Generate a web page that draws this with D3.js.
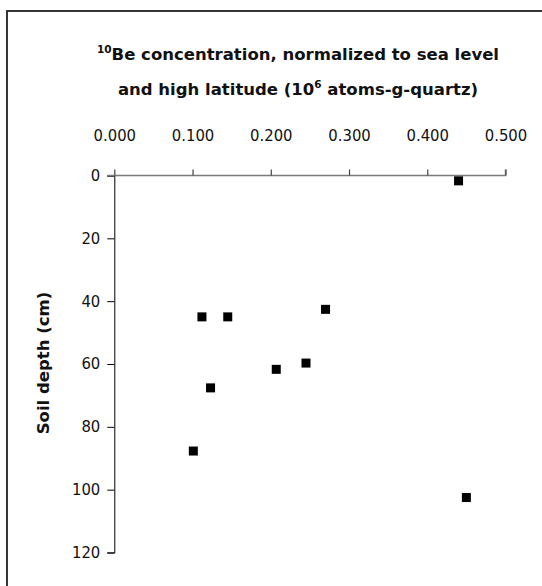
<!DOCTYPE html>
<html>
<head>
<meta charset="utf-8">
<script src="https://cdn.jsdelivr.net/npm/d3@7"></script>
<style>
  body { margin: 0; background: #fff; }
  text { font-family: "DejaVu Sans", sans-serif; fill: #111; }
  .title { font-weight: bold; font-size: 16.5px; }
  .tick text { font-size: 16.5px; font-family: "DejaVu Sans Condensed", "DejaVu Sans", sans-serif; fill: #111; }
</style>
</head>
<body>
<svg></svg>
<script>
var width = 542,
    height = 586;

// 10Be concentration (10^6 atoms/g quartz) and soil depth (cm)
var beConc = [0.440, 0.112, 0.145, 0.270, 0.207, 0.245, 0.123, 0.101, 0.450];
var depth = [1.7, 45.0, 45.0, 42.6, 61.7, 59.7, 67.6, 87.7, 102.5];

var xTicks = [0, 0.1, 0.2, 0.3, 0.4, 0.5];
var yTicks = [0, 20, 40, 60, 80, 100, 120];

var svg = d3.select("svg")
    .attr("width", width)
    .attr("height", height);

// frame (only top and left edges show in the window)
svg.append("rect")
    .attr("x", 7)
    .attr("y", 11)
    .attr("width", width + 20)
    .attr("height", height + 20)
    .attr("fill", "none")
    .attr("stroke", "#222")
    .attr("stroke-width", 1.8);

var x = d3.scaleLinear().domain([0, 0.5]).range([114.3, 505.5]);
var y = d3.scaleLinear().domain([0, 120]).range([175.5, 552.5]);

// y axis first, so the grey x axis sits on top of it
var yAxis = svg.append("g")
    .attr("transform", "translate(" + x(0) + ",0)")
    .call(d3.axisLeft(y)
      .tickValues(yTicks)
      .tickSize(7)
      .tickPadding(7)
      .tickFormat(d3.format("d")));
yAxis.select(".domain").attr("stroke", "#000");
yAxis.selectAll(".tick line").attr("stroke", "#000");
yAxis.selectAll(".tick text").attr("dy", "0.3em");

var xAxis = svg.append("g")
    .attr("transform", "translate(0," + y(0) + ")")
    .call(d3.axisTop(x)
      .tickValues(xTicks)
      .tickSize(6)
      .tickSizeOuter(6)
      .tickPadding(29)
      .tickFormat(d3.format(".3f")));
xAxis.select(".domain")
    .attr("stroke", "#7a7a7a")
    .attr("stroke-width", 1.4)
    .attr("d", "M108,0H" + x(0.5) + "V-6");
xAxis.selectAll(".tick line").attr("stroke", "#444").attr("stroke-width", 1.2);

svg.selectAll(".pt")
    .data(beConc)
  .enter().append("rect")
    .attr("class", "pt")
    .attr("x", function(d) { return x(d) - 4.5; })
    .attr("y", function(d, i) { return y(depth[i]) - 4.5; })
    .attr("width", 9)
    .attr("height", 9)
    .attr("fill", "#000");

// x axis title, two lines with superscripts
var t1 = svg.append("text")
    .attr("class", "title")
    .attr("x", 298)
    .attr("y", 60)
    .attr("text-anchor", "middle");
t1.append("tspan").attr("font-size", "10.5px").attr("dy", -7).text("10");
t1.append("tspan").attr("dy", 7).text("Be concentration, normalized to sea level");

var t2 = svg.append("text")
    .attr("class", "title")
    .attr("x", 298)
    .attr("y", 95)
    .attr("text-anchor", "middle");
t2.append("tspan").text("and high latitude (10");
t2.append("tspan").attr("font-size", "10.5px").attr("dy", -7).text("6");
t2.append("tspan").attr("dy", 7).text(" atoms-g-quartz)");

svg.append("text")
    .attr("class", "title")
    .attr("font-size", "17px")
    .attr("transform", "translate(49,363) rotate(-90)")
    .attr("text-anchor", "middle")
    .text("Soil depth (cm)");
</script>
</body>
</html>
